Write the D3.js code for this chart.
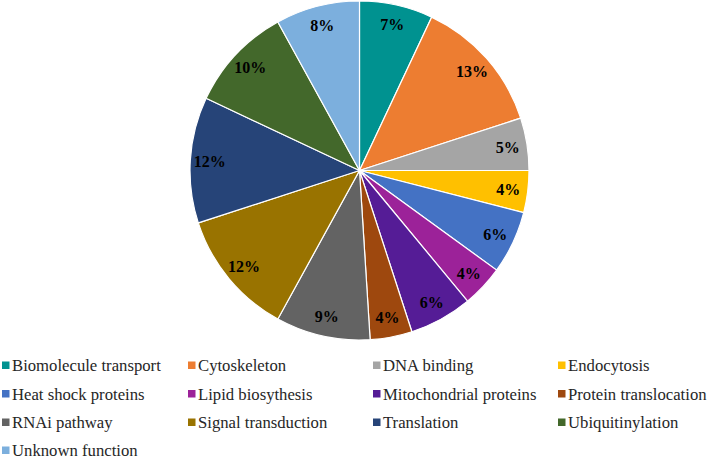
<!DOCTYPE html>
<html><head><meta charset="utf-8">
<script src="https://cdn.jsdelivr.net/npm/d3@7"></script>
<style>body{margin:0;background:#fff}svg{display:block}
text{font-family:"Liberation Serif","Times New Roman","DejaVu Serif",serif}</style>
</head><body>
<svg id="c" width="710" height="458"></svg>
<script>
const categories = ["Biomolecule transport","Cytoskeleton","DNA binding","Endocytosis","Heat shock proteins","Lipid biosythesis","Mitochondrial proteins","Protein translocation","RNAi pathway","Signal transduction","Translation","Ubiquitinylation","Unknown function"];
const values = [7,13,5,4,6,4,6,4,9,12,12,10,8];
const colors = ["#009290","#ED7D31","#A5A5A5","#FFC000","#4472C4","#9C2299","#551C96","#9E480E","#636363","#997300","#264478","#43682B","#7CAFDD"];

const svg = d3.select("#c");
const cx = 359.5, cy = 170.5, R = 169.5;
const g = svg.append("g").attr("transform", `translate(${cx},${cy})`);
const pie = d3.pie().sort(null).value(d => d.v);
const data = categories.map((c,i)=>({c, v: values[i], col: colors[i]}));
const arcs = pie(data);
const arc = d3.arc().innerRadius(0).outerRadius(R);
const labelArc = d3.arc().innerRadius(150).outerRadius(150);
const total = d3.sum(values);

g.selectAll("path").data(arcs).join("path")
  .attr("d", arc).attr("fill", d => d.data.col)
  .attr("stroke", "#fff").attr("stroke-width", 1.2);

g.selectAll("text.lab").data(arcs).join("text")
  .attr("class","lab")
  .attr("transform", d => `translate(${labelArc.centroid(d)})`)
  .attr("text-anchor","middle").attr("dy","0.35em")
  .style("font-weight","bold").style("font-size","16px").attr("fill","#000")
  .text(d => Math.round(d.data.v / total * 100) + "%");

const colX = [2, 188, 373, 558];
const rowY = [365.5, 394, 422.5, 450.5];
const leg = svg.append("g");
const items = leg.selectAll("g").data(data).join("g")
  .attr("transform", (d,i) => `translate(${colX[i%4]},${rowY[Math.floor(i/4)]})`);
items.append("rect").attr("x",0).attr("y",-4).attr("width",7.5).attr("height",7.5).attr("fill", d=>d.col);
items.append("text").attr("x",10).attr("y",0).attr("dy","0.33em")
  .style("font-size","16.7px").attr("fill","#262626")
  .text(d => d.c);
</script>
</body></html>
